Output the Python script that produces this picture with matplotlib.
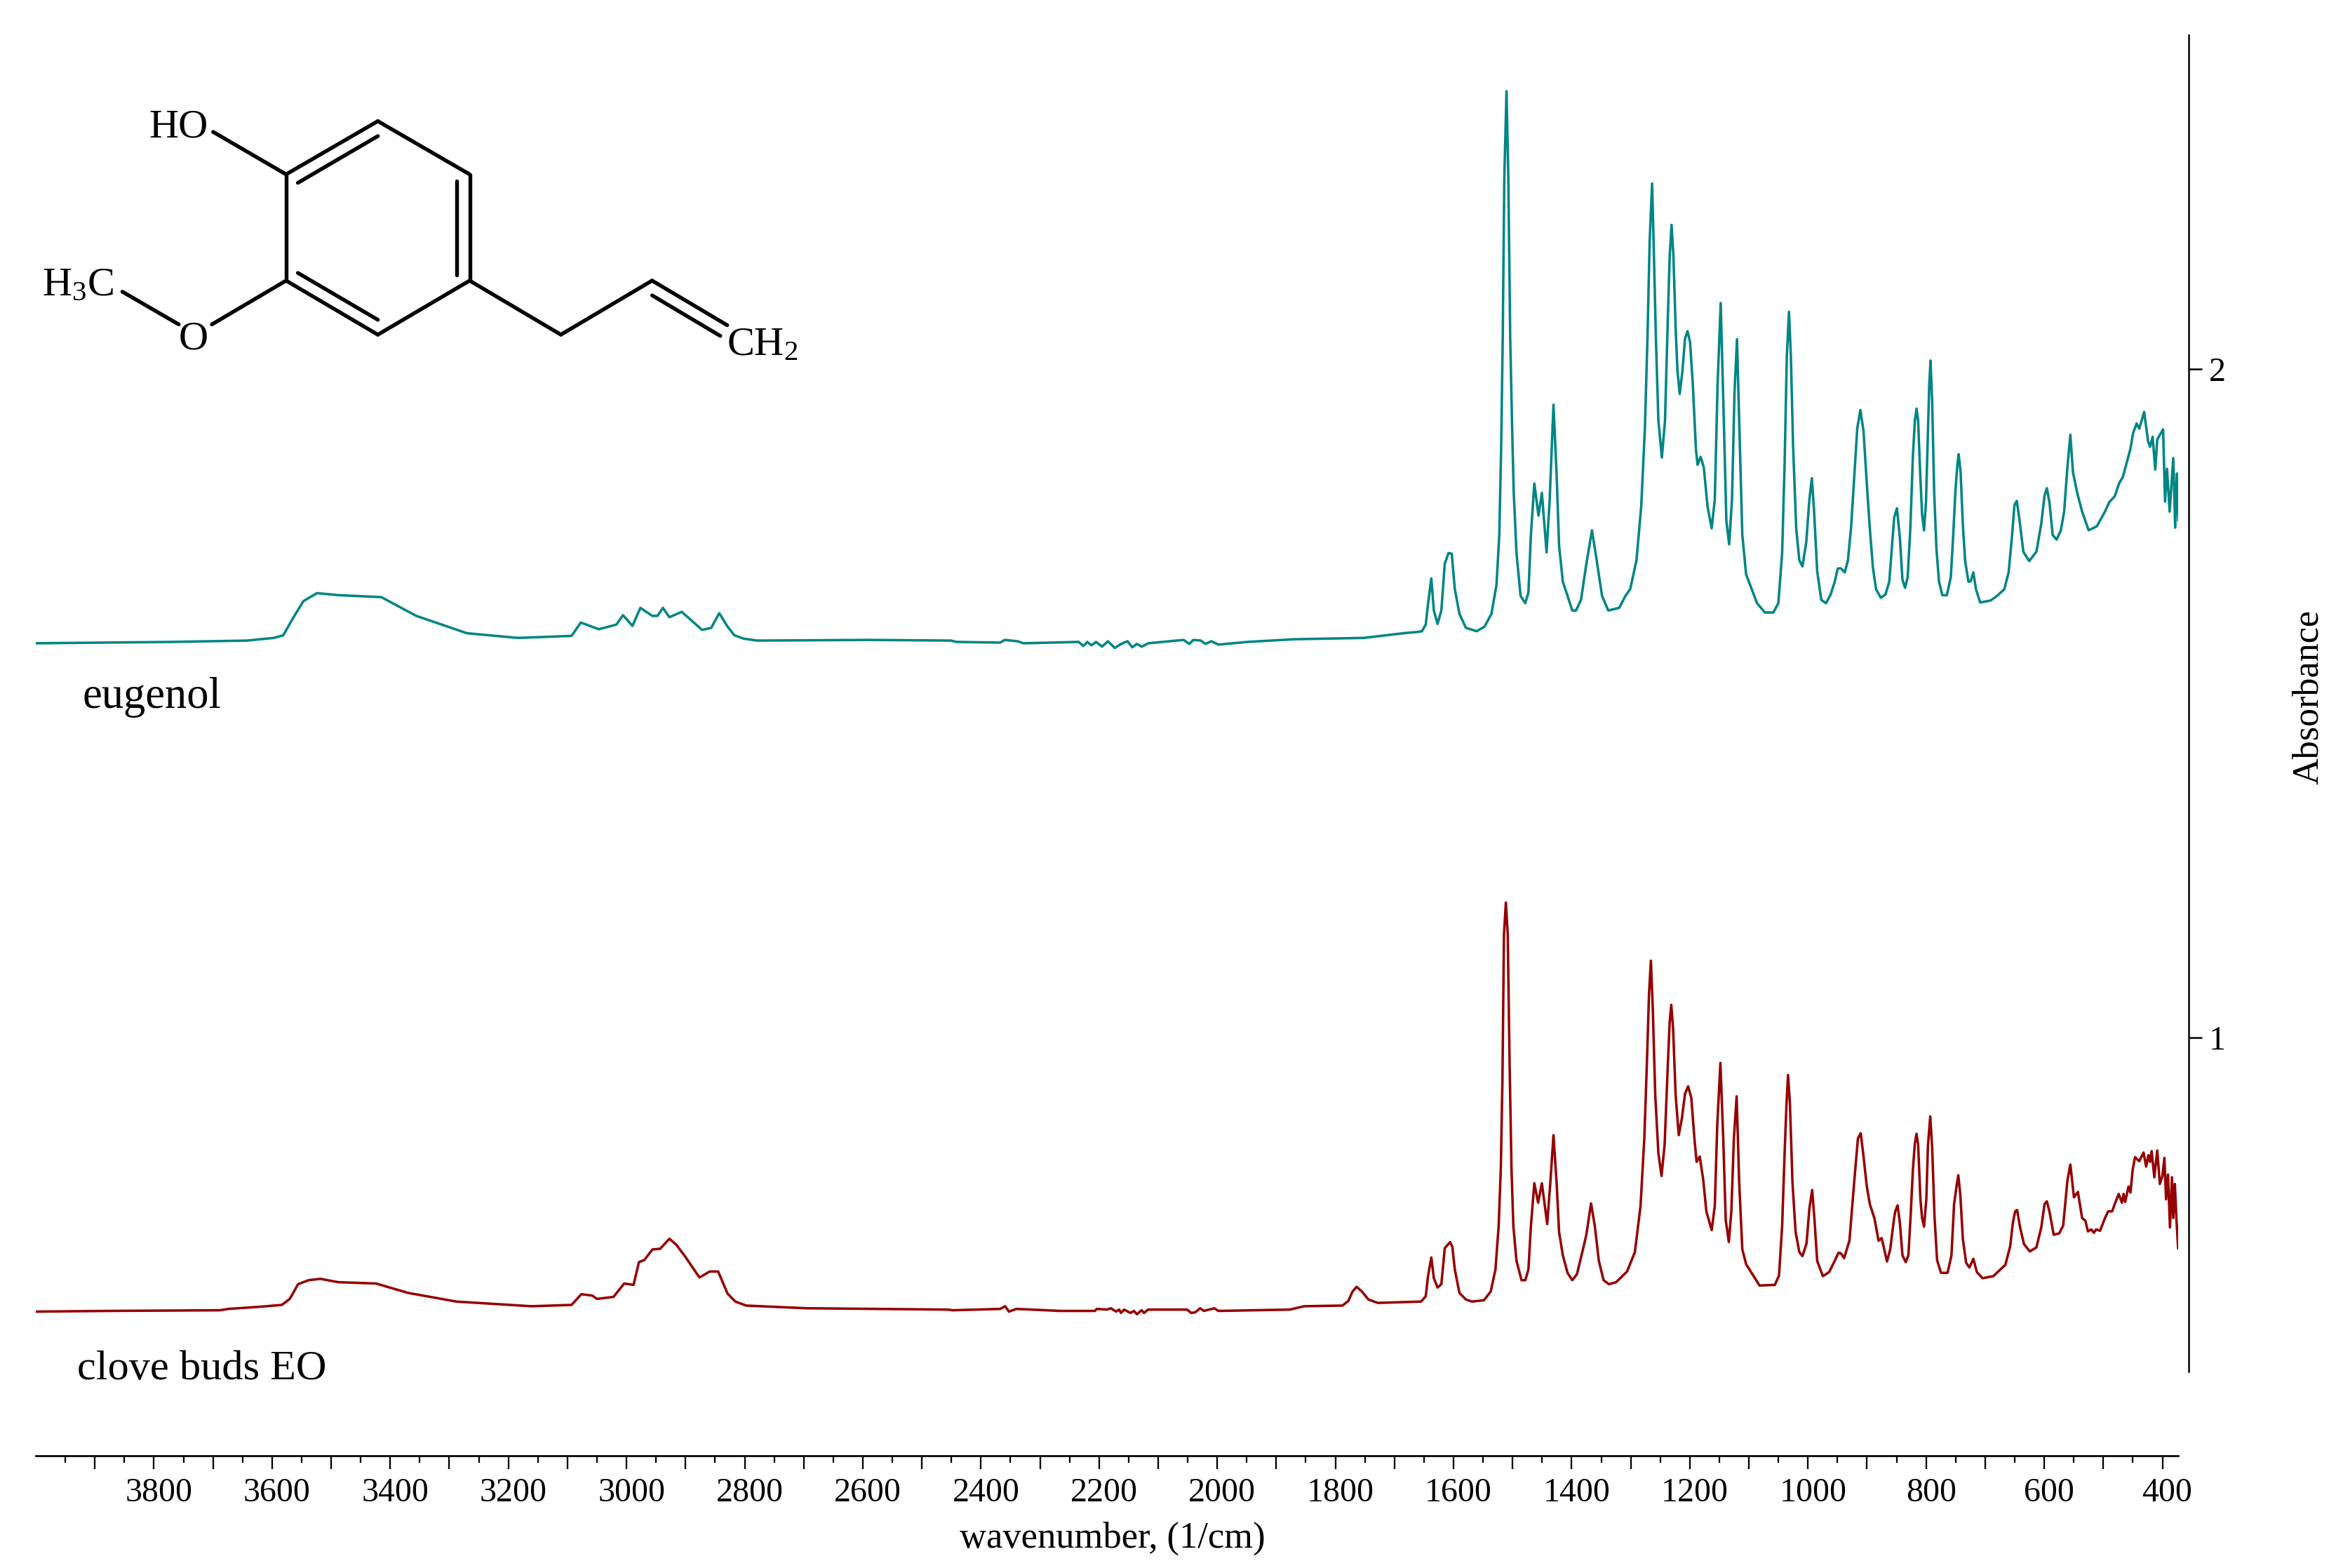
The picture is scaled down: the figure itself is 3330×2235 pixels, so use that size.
import matplotlib

matplotlib.use("Agg")
import matplotlib.pyplot as plt
from matplotlib.transforms import ScaledTranslation

W, H, DPI = 3330, 2235, 300

TEAL = "#008585"
RED = "#960000"

# spectra (wavenumber in 1/cm, absorbance with offset)
eugenol_wn = [
    3999, 3770, 3642.6, 3597, 3581, 3565, 3547, 3524, 3488, 3415, 3356, 3270, 3184, 3093, 3077.4, 3047,
    3017, 3006, 2990, 2976.5, 2956.5, 2947.5, 2938.4, 2927.4, 2906.5, 2872, 2856.6, 2843, 2829, 2817.5, 2802, 2779,
    2589, 2451, 2441, 2367.5, 2359.6, 2338, 2328, 2234.5, 2226.7, 2220, 2213, 2205, 2195, 2185, 2173.5,
    2162.7, 2151.8, 2143.9, 2136, 2128, 2116.4, 2057, 2047, 2040.6, 2027.8, 2020, 2010, 1998, 1949, 1870,
    1752, 1685, 1660, 1653.5, 1647, 1643, 1637.6, 1633.3, 1627, 1620.6, 1614.8, 1608.4, 1603, 1597.8, 1590,
    1579, 1560.7, 1547.4, 1535.8, 1527.3, 1522.5, 1519.3, 1516.7, 1514, 1510.3, 1507.2, 1504, 1500.8, 1498.1,
    1493.4, 1486.5, 1478.5, 1473.2, 1469, 1463.2, 1456.2, 1450.4, 1442.5, 1437.2, 1430.8, 1425.5, 1421.3,
    1414.9, 1407, 1399, 1392.6, 1384.2, 1375.1, 1365.6, 1357.6, 1348.6, 1338, 1319.5, 1308.9, 1300.9, 1290.3,
    1282.3, 1276, 1271.7, 1268, 1263.8, 1261, 1257.4, 1253.2, 1247.3, 1242, 1237.3, 1234.1, 1230.9, 1227.7,
    1224, 1220.9, 1217.1, 1212.4, 1208.1, 1203.9, 1199.6, 1194.9, 1189.6, 1186.9, 1181.6, 1176.3, 1169.9,
    1163, 1157.7, 1153, 1147.7, 1142.9, 1138.1, 1133.4, 1128.6, 1124.3, 1120.1, 1115.3, 1111.1, 1104.7,
    1097.8, 1086.2, 1072.9, 1058.6, 1050.1, 1043.7, 1039.5, 1035.8, 1032.1, 1028.9, 1025.2, 1019.9, 1014.6,
    1009.3, 1002.9, 997.6, 993.4, 989.7, 984.4, 977.5, 969.3, 961.6, 954.7, 949.4, 944.1, 937.7, 932.4,
    927.1, 921.8, 916.5, 911.2, 905.9, 900.6, 895.3, 890, 884.7, 876.7, 868.8, 862.4, 854, 849.4, 844.4,
    840, 835.6, 831.2, 826.7, 822.3, 819, 816.2, 813.5, 810.1, 806.8, 803.5, 800.2, 796.9, 794.7, 792.5,
    789.7, 786.4, 782.5, 778.1, 772.6, 764.8, 758.2, 754.3, 750.4, 747.1, 744.9, 741.6, 737.7, 733.9, 728.3,
    724.4, 720, 715.6, 708.4, 690.7, 679.7, 667.5, 660.3, 654.8, 650.4, 646.5, 642.1, 635.4, 625.5, 613.3,
    605, 599.5, 595.6, 591.2, 585.7, 579.1, 571.9, 566.3, 560.8, 555.8, 551.4, 544.2, 535.9, 524.8, 511,
    497.2, 490, 480.6, 473.4, 466.8, 461.3, 454.1, 449.7, 443.6, 439.2, 430.9, 424.2, 420.9, 416.5, 412.1,
    408.7, 398.8, 395.5, 392.2, 387.7, 381.6, 378.3, 375.6, 372.8,
]
eugenol_abs = [
    1.590, 1.592, 1.594, 1.598, 1.602, 1.627, 1.653, 1.665, 1.662, 1.659, 1.631, 1.605, 1.598, 1.601, 1.621, 1.611,
    1.618, 1.632, 1.616, 1.643, 1.631, 1.631, 1.643, 1.629, 1.637, 1.610, 1.613, 1.635, 1.615, 1.602, 1.597, 1.594,
    1.595, 1.594, 1.592, 1.591, 1.595, 1.593, 1.590, 1.592, 1.586, 1.592, 1.587, 1.592, 1.585, 1.593, 1.583,
    1.589, 1.593, 1.584, 1.589, 1.585, 1.590, 1.595, 1.589, 1.595, 1.594, 1.589, 1.593, 1.588, 1.592, 1.596,
    1.598, 1.605, 1.607, 1.608, 1.618, 1.650, 1.687, 1.639, 1.619, 1.639, 1.709, 1.725, 1.724, 1.671, 1.634,
    1.613, 1.608, 1.615, 1.634, 1.677, 1.752, 1.885, 2.046, 2.287, 2.416, 2.287, 2.046, 1.912, 1.816,
    1.725, 1.661, 1.650, 1.666, 1.752, 1.829, 1.781, 1.815, 1.726, 1.805, 1.947, 1.843, 1.736,
    1.682, 1.661, 1.639, 1.639, 1.655, 1.709, 1.759, 1.714, 1.661, 1.639, 1.643, 1.661, 1.671, 1.714,
    1.794, 1.912, 2.046, 2.191, 2.278, 2.180, 2.046, 1.923, 1.868, 1.923, 2.073, 2.169, 2.216, 2.169,
    2.062, 1.998, 1.963, 1.998, 2.046, 2.057, 2.041, 1.977, 1.880, 1.857, 1.869, 1.853, 1.794,
    1.762, 1.805, 1.977, 2.099, 1.939, 1.773, 1.738, 1.805, 1.966, 2.045, 1.886, 1.752, 1.693,
    1.677, 1.650, 1.636, 1.636, 1.650, 1.725, 1.859, 2.019, 2.086, 2.019, 1.886, 1.762, 1.714,
    1.705, 1.741, 1.805, 1.837, 1.789, 1.698, 1.655, 1.650, 1.663, 1.682, 1.702, 1.702, 1.696, 1.714,
    1.762, 1.837, 1.912, 1.939, 1.907, 1.832, 1.762, 1.703, 1.671, 1.658, 1.663, 1.682, 1.778, 1.792, 1.748,
    1.685, 1.673, 1.689, 1.762, 1.871, 1.923, 1.941, 1.923, 1.846, 1.783, 1.759, 1.801, 1.906, 1.976, 2.013,
    1.951, 1.818, 1.731, 1.682, 1.662, 1.662, 1.689, 1.748, 1.818, 1.857, 1.873, 1.846, 1.766, 1.713, 1.682,
    1.683, 1.696, 1.671, 1.651, 1.654, 1.661, 1.671, 1.696, 1.748, 1.797, 1.803, 1.776, 1.727, 1.713, 1.727,
    1.769, 1.811, 1.822, 1.801, 1.752, 1.745, 1.759, 1.787, 1.853, 1.902, 1.846, 1.815, 1.787, 1.759, 1.765,
    1.787, 1.801, 1.810, 1.829, 1.839, 1.857, 1.881, 1.904, 1.919, 1.911, 1.936, 1.892, 1.884, 1.899, 1.850,
    1.895, 1.910, 1.802, 1.851, 1.787, 1.867, 1.763, 1.844, 1.774,
]

clove_wn = [
    3999, 3879, 3688, 3674.4, 3624, 3583.5, 3570, 3556, 3538, 3518, 3488, 3424, 3370, 3288, 3161, 3093, 3076.5,
    3058, 3050, 3022, 3004, 2988, 2979, 2970, 2956, 2943, 2927.4, 2915.6, 2902, 2876.5, 2859, 2844.8, 2829,
    2815.7, 2797.5, 2695, 2456, 2448, 2367.6, 2359, 2352.6, 2340, 2265, 2207, 2204, 2187, 2180, 2171, 2166,
    2163, 2157.6, 2147, 2141, 2136, 2128, 2124, 2117, 2051, 2044, 2037, 2029, 2022.6, 2005, 1998, 1877, 1853,
    1788, 1778, 1771, 1764, 1755, 1744, 1728, 1655, 1647, 1643, 1637.6, 1633.3, 1627, 1620.6, 1614.8, 1605.8,
    1602, 1597.8, 1590, 1579, 1568.7, 1548.5, 1537, 1529, 1523.6, 1519.9, 1517.2, 1514.6, 1511.4, 1508.2, 1505,
    1501.9, 1498.7, 1493.4, 1484.9, 1478.5, 1473.2, 1469, 1463.2, 1456.8, 1450.4, 1441.4, 1436.1, 1430.8,
    1425.5, 1421.3, 1414.9, 1407, 1399, 1391, 1380.4, 1375.1, 1367.2, 1360.8, 1354, 1346, 1337, 1324.8, 1306.2,
    1293, 1283.4, 1277, 1272.8, 1269, 1265.9, 1262.7, 1258.5, 1253.2, 1247.9, 1242.6, 1237.3, 1234.1, 1231.4,
    1228.3, 1224, 1218.7, 1213.4, 1208.1, 1202.8, 1197.5, 1192.2, 1188.5, 1183.2, 1177.4, 1172, 1163, 1157.7,
    1153.5, 1148.2, 1143.4, 1139.2, 1133.9, 1129.7, 1125.4, 1120.7, 1116.4, 1111.1, 1104.7, 1094.1, 1081.9,
    1056, 1049, 1043.7, 1039.5, 1036.3, 1033.7, 1030.5, 1026.2, 1020.9, 1014.6, 1009.3, 1002.4, 997.6, 992.9,
    989.2, 984.4, 974.8, 964.2, 954.7, 948.3, 944.1, 938.8, 929.8, 921.8, 915.4, 910.7, 905.9, 900.6, 895.3,
    887.3, 880.5, 875.2, 866.2, 860.8, 854, 852.2, 848.3, 844.4, 840, 834.5, 830, 826.2, 822.3, 819, 816.2,
    813.5, 809.6, 806.8, 803.5, 799.6, 796.9, 793, 789.7, 785.8, 781.4, 774.8, 763.7, 757.1, 752.6, 748.2,
    745.5, 742.1, 737.7, 732.2, 726.7, 720, 714, 704.5, 686.3, 665.8, 657.6, 653.1, 649.2, 645.9, 640.9, 634.3,
    624.4, 613.3, 605, 599.5, 595.6, 591.2, 584, 574.6, 567.9, 560.8, 555.8, 549.7, 543, 535.9, 530.4, 526,
    520.4, 516, 512.1, 505.5, 497.2, 491.7, 485, 480.6, 474, 468.5, 465.7, 463, 457.4, 454.1, 450.2, 446.3,
    439.2, 431.9, 427.5, 423.7, 420.9, 418.2, 413.7, 408.7, 404.3, 399.9, 396.6, 393.8, 390.5, 387.2, 383.8,
    381.6, 378.9, 376.1, 373.4,
]
clove_abs = [
    0.590, 0.591, 0.592, 0.594, 0.597, 0.600, 0.609, 0.631, 0.637, 0.639, 0.634, 0.632, 0.618, 0.605, 0.598, 0.600, 0.616,
    0.614, 0.609, 0.612, 0.632, 0.630, 0.664, 0.667, 0.683, 0.684, 0.699, 0.690, 0.674, 0.641, 0.650, 0.650, 0.617,
    0.605, 0.599, 0.595, 0.593, 0.592, 0.594, 0.598, 0.590, 0.594, 0.591, 0.591, 0.594, 0.593, 0.595, 0.590, 0.593,
    0.588, 0.593, 0.588, 0.591, 0.586, 0.592, 0.588, 0.593, 0.593, 0.588, 0.589, 0.595, 0.591, 0.595, 0.591, 0.593, 0.598,
    0.599, 0.606, 0.620, 0.627, 0.620, 0.608, 0.603, 0.605, 0.613, 0.644, 0.671, 0.640, 0.626, 0.631, 0.685, 0.694,
    0.687, 0.653, 0.618, 0.608, 0.605, 0.607, 0.620, 0.653, 0.718, 0.805, 0.936, 1.154, 1.202, 1.154, 0.958,
    0.805, 0.718, 0.666, 0.637, 0.637, 0.653, 0.718, 0.782, 0.753, 0.782, 0.721, 0.783, 0.854,
    0.783, 0.709, 0.674, 0.648, 0.637, 0.646, 0.685, 0.705, 0.752, 0.718, 0.666, 0.637, 0.631, 0.634, 0.650,
    0.679, 0.748, 0.849, 0.958, 1.066, 1.115, 1.045, 0.914, 0.827, 0.793, 0.840, 0.958, 1.023, 1.049,
    1.014, 0.914, 0.854, 0.879, 0.916, 0.927, 0.910, 0.849, 0.814, 0.822, 0.788, 0.740, 0.712, 0.748,
    0.870, 0.962, 0.849, 0.727, 0.694, 0.740, 0.849, 0.912, 0.783, 0.683, 0.661, 0.646, 0.629,
    0.630, 0.644, 0.718, 0.827, 0.901, 0.944, 0.901, 0.783, 0.709, 0.679, 0.673, 0.692, 0.744, 0.772,
    0.731, 0.666, 0.643, 0.649, 0.666, 0.678, 0.677, 0.670, 0.696, 0.783, 0.849, 0.857, 0.822, 0.779, 0.751,
    0.729, 0.696, 0.700, 0.665, 0.683, 0.731, 0.740, 0.749, 0.723, 0.674, 0.664, 0.674, 0.733, 0.803, 0.842, 0.856,
    0.840, 0.758, 0.730, 0.717, 0.758, 0.838, 0.882, 0.835, 0.733, 0.667, 0.648, 0.648, 0.674, 0.751, 0.779,
    0.794, 0.765, 0.698, 0.663, 0.656, 0.669, 0.649, 0.640, 0.643, 0.660, 0.688, 0.723, 0.740, 0.742, 0.716, 0.691,
    0.680, 0.686, 0.716, 0.751, 0.755, 0.740, 0.705, 0.707, 0.719, 0.786, 0.810, 0.761, 0.769, 0.730, 0.726, 0.710,
    0.713, 0.708, 0.713, 0.711, 0.730, 0.740, 0.740, 0.751, 0.766, 0.753, 0.766, 0.754, 0.777, 0.768, 0.803, 0.821,
    0.815, 0.828, 0.807, 0.824, 0.814, 0.830, 0.791, 0.831, 0.781, 0.793, 0.820, 0.758, 0.795, 0.716, 0.791,
    0.730, 0.781, 0.726, 0.685,
]

major_ticks = list(range(3900, 300, -100))
minor_ticks = list(range(3950, 400, -100))
y_ticks = [1, 2]

# eugenol structure, overlay pixels: bonds are (x0, y0, x1, y1)
bonds = [
    (538.6, 172.7, 669.5, 248.5), (669.5, 248.5, 669.5, 400), (669.5, 400, 538.6, 477),
    (538.6, 477, 407.8, 400), (407.8, 400, 407.8, 248.5), (407.8, 248.5, 538.6, 172.7),
    (424.6, 260.6, 538.6, 194), (651, 257.6, 651, 392), (424.6, 389, 538.6, 455.8),
    (407.8, 248.5, 303.8, 188), (407.8, 400, 302, 462.4), (254.8, 462.4, 174.4, 415.8),
    (669.5, 400, 799.5, 477), (799.5, 477, 929.6, 400), (929.6, 400, 1036.7, 463.6),
    (929.6, 421, 1026.8, 478.8),
]
atoms = [("HO", 212, 195), ("H$_3$C", 60, 421), ("O", 255, 497.6), ("CH$_2$", 1036, 506)]


def main() -> None:
    plt.rcParams["font.family"] = ["Liberation Serif", "DejaVu Serif"]
    plt.rcParams["mathtext.default"] = "regular"

    fig = plt.figure(figsize=(W / DPI, H / DPI), dpi=DPI)
    left, right, top, bottom = 51 / W, 3105 / W, 1 - 50 / H, 1 - 2075 / H
    ax = fig.add_axes([left, bottom, right - left, top - bottom])

    ax.plot(eugenol_wn, eugenol_abs, color=TEAL, lw=0.85, solid_joinstyle="round")
    ax.plot(clove_wn, clove_abs, color=RED, lw=0.85, solid_joinstyle="round")

    ax.set_xlim(4000, 373.3)
    ax.set_ylim(0.3743, 2.5)

    ax.spines["top"].set_visible(False)
    ax.spines["left"].set_visible(False)
    ax.spines["bottom"].set_linewidth(0.65)
    ax.spines["right"].set_linewidth(0.6)
    ax.spines["right"].set_position(("outward", 3.6))
    ax.spines["right"].set_bounds(0.5, 2.5)

    ax.set_xticks(major_ticks, labels=[str(t) if t % 200 == 0 else "" for t in major_ticks])
    ax.set_xticks(minor_ticks, minor=True)
    ax.tick_params(axis="x", which="major", direction="out", length=4.6, width=0.55, labelsize=11.5, pad=2.8)
    ax.tick_params(axis="x", which="minor", direction="out", length=2.3, width=0.55)

    ax.yaxis.tick_right()
    ax.set_yticks(y_ticks, labels=[str(t) for t in y_ticks])
    ax.tick_params(axis="y", direction="out", length=4.5, width=0.6, labelsize=11.5, pad=2.4)

    # the tick labels sit a little right of their ticks in the original
    shift = ScaledTranslation(7 / DPI, 0, fig.dpi_scale_trans)
    for lab in ax.get_xticklabels():
        lab.set_transform(lab.get_transform() + shift)

    # overlay in figure pixels for the structure and free text
    ov = fig.add_axes([0, 0, 1, 1], facecolor="none")
    ov.set_xlim(0, W)
    ov.set_ylim(H, 0)
    ov.axis("off")
    for x0, y0, x1, y1 in bonds:
        ov.plot([x0, x1], [y0, y1], color="black", lw=1.3, solid_capstyle="round")
    for txt, x, y in atoms:
        ov.text(x, y, txt, fontsize=14, ha="left", va="baseline")

    ov.text(117, 1009, "eugenol", fontsize=15, ha="left", va="baseline")
    ov.text(110, 1966, "clove buds EO", fontsize=14.5, ha="left", va="baseline")
    ov.text(1586, 2206, "wavenumber, (1/cm)", fontsize=12.6, ha="center", va="baseline")
    ov.text(3304, 994, "Absorbance", fontsize=12.5, rotation=90, rotation_mode="anchor",
            ha="center", va="baseline")

    fig.savefig("out.png", dpi=DPI, facecolor="white")
    plt.close(fig)


if __name__ == "__main__":
    assert len(eugenol_wn) == len(eugenol_abs), (len(eugenol_wn), len(eugenol_abs))
    assert len(clove_wn) == len(clove_abs), (len(clove_wn), len(clove_abs))
    main()
